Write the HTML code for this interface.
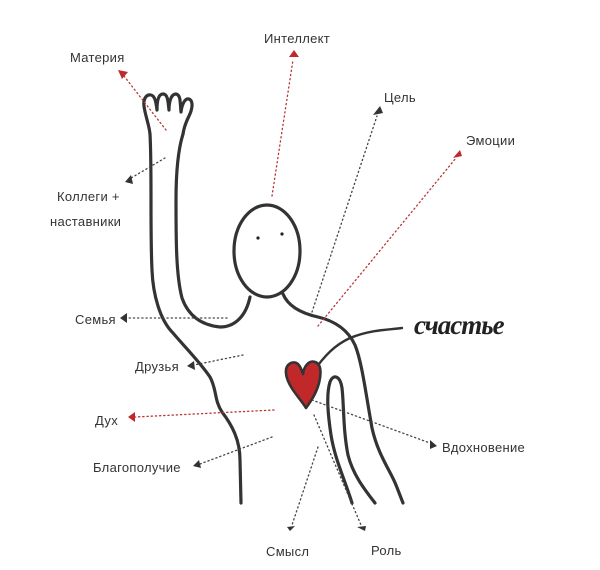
<!DOCTYPE html>
<html><head><meta charset="utf-8"><style>
html,body{margin:0;padding:0;background:#fff;}
svg{display:block}
text{font-family:"Liberation Sans Narrow","Liberation Sans","DejaVu Sans Condensed",sans-serif;font-size:13px;fill:#333;letter-spacing:0.3px;}
</style></head><body>
<svg width="600" height="570" viewBox="0 0 600 570">
<g fill="none" stroke="#333" stroke-width="3.2" stroke-linecap="round" stroke-linejoin="round">
<!-- hand -->
<path d="M150,134 C149,124 145,115 144,106 C143,98 147,94 151,95 C155,96 156,102 157,110 C157,102 158,94 163,94 C168,94 168,102 169,110 C169,102 171,94 176,94 C181,95 180,103 181,112 C182,104 185,98 189,99 C194,101 192,110 189,116 C186,122 184,127 183,134"/>
<!-- arm outer -> torso left -->
<path d="M150,134 C152,170 150,230 152,270 C153,295 160,320 173,333 C183,345 200,362 210,377 C217,390 214,400 222,412 C232,425 240,440 240,460 L241,503"/>
<!-- arm inner -> shoulder -> neck -->
<path d="M183,134 C178,150 176,170 176,200 C176,240 176,275 182,298 C188,315 200,325 220,327 C235,327 246,316 250,297"/>
<!-- head -->
<ellipse cx="267" cy="251" rx="33" ry="46"/>
<!-- right neck / shoulder / arm -->
<path d="M283,294 C288,306 300,313 318,317 C335,321 348,330 355,345 C362,362 366,395 372,428 C378,455 390,470 396,485 L403,503"/>
<!-- inner arm -->
<path d="M352,503 C345,480 335,460 331,435 C328,415 326,395 330,382 C333,374 340,375 342,388 C344,405 343,430 348,455 C353,475 365,490 375,503"/>
<!-- happiness line -->
<path d="M313,372 C325,355 335,345 350,338 C370,330 385,330 402,328" stroke-width="2.4"/>
</g>
<!-- heart -->
<path d="M306,408 C300,398 287,386 286,373 C285,364 293,360 298,364 C301,367 302,371 303,374 C304,366 309,360 315,362 C322,364 321,375 319,383 C316,394 311,401 306,408 Z" fill="#c0282a" stroke="#333" stroke-width="2.6" stroke-linejoin="round"/>
<!-- eyes -->
<circle cx="258" cy="238" r="1.6" fill="#222"/><circle cx="282" cy="234" r="1.6" fill="#222"/>
<!-- dotted connectors -->
<g fill="none" stroke-width="1.3" stroke-dasharray="1.2 3" stroke-linecap="round">
<path d="M166,130 L124,76" stroke="#b33"/>
<path d="M272,196 L293,60" stroke="#b33"/>
<path d="M312,312 L377,116" stroke="#444"/>
<path d="M318,326 L456,158" stroke="#b33"/>
<path d="M165,158 L131,178" stroke="#444"/>
<path d="M227,318 L127,318" stroke="#444"/>
<path d="M243,355 L194,365" stroke="#444"/>
<path d="M274,410 L135,417" stroke="#b33"/>
<path d="M272,437 L200,464" stroke="#444"/>
<path d="M312,400 L430,443" stroke="#444"/>
<path d="M318,447 L292,525" stroke="#444"/>
<path d="M314,415 L361,525" stroke="#444"/>
</g>
<!-- arrowheads -->
<g>
<polygon points="118,70 128,72 122,79" fill="#c0282a"/>
<polygon points="289,57 299,57 294,50" fill="#c0282a"/>
<polygon points="373,115 383,113 380,106" fill="#333"/>
<polygon points="453,158 462,156 460,150" fill="#c0282a"/>
<polygon points="125,182 131,175 133,184" fill="#333"/>
<polygon points="120,318 127,313 127,323" fill="#333"/>
<polygon points="187,366 194,361 195,370" fill="#333"/>
<polygon points="128,417 135,412 135,422" fill="#c0282a"/>
<polygon points="193,466 199,460 201,468" fill="#333"/>
<polygon points="437,446 430,440 430,449" fill="#333"/>
<polygon points="287,527 295,526 290,531" fill="#333"/>
<polygon points="357,527 366,526 365,531" fill="#333"/>
</g>
<!-- labels -->
<text x="70" y="62">Материя</text>
<text x="264" y="43">Интеллект</text>
<text x="384" y="102">Цель</text>
<text x="466" y="145">Эмоции</text>
<text x="57" y="201">Коллеги +</text>
<text x="50" y="226">наставники</text>
<text x="75" y="324">Семья</text>
<text x="135" y="371">Друзья</text>
<text x="95" y="425">Дух</text>
<text x="93" y="472">Благополучие</text>
<text x="442" y="452">Вдохновение</text>
<text x="266" y="556">Смысл</text>
<text x="371" y="555">Роль</text>
<text x="414" y="334" style="font-family:'Liberation Serif',serif;font-style:italic;font-weight:bold;font-size:27px;fill:#222;letter-spacing:-1px">счастье</text>
</svg>
</body></html>
